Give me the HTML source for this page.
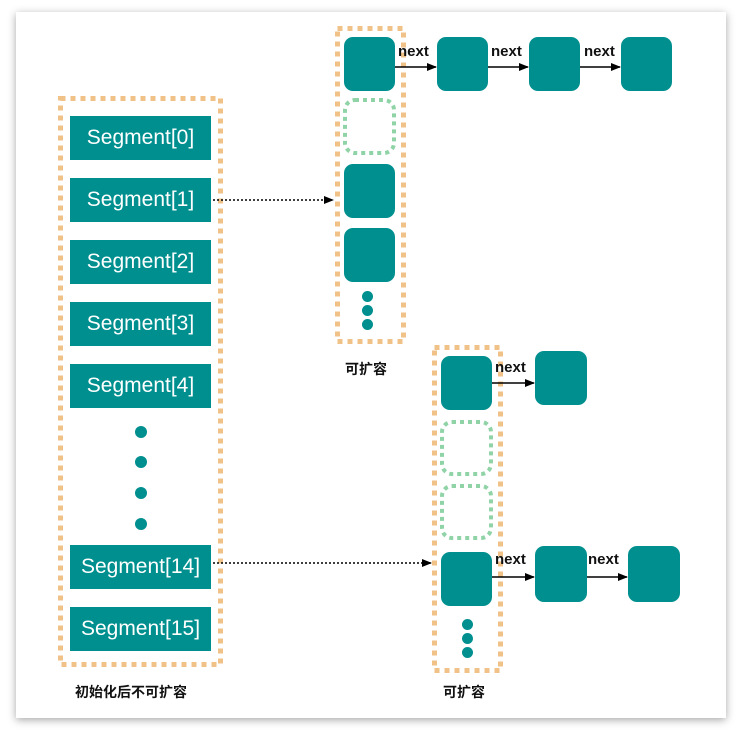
<!DOCTYPE html>
<html><head><meta charset="utf-8"><style>
body{margin:0;width:747px;height:738px;background:#fff;overflow:hidden;position:relative;font-family:"Liberation Sans","Noto Sans CJK SC",sans-serif}
.card{position:absolute;left:16px;top:12px;width:710px;height:706px;background:#fff;box-shadow:0 2px 8px rgba(0,0,0,.35)}
.seg{position:absolute;left:70px;width:141px;height:44px;background:#008f8f;color:#fff;font-size:21px;text-align:center;line-height:44px}
.n{position:absolute;width:51px;height:54px;background:#008f8f;border-radius:9px}
.d{position:absolute;width:11px;height:11px;border-radius:50%;background:#008f8f}
.t{position:absolute;font-size:15px;font-weight:bold;color:#111}
</style></head><body>
<div class="card"></div>
<svg width="747" height="738" style="position:absolute;left:0;top:0">
<g fill="none" stroke="#f0c288" stroke-width="5" stroke-dasharray="5,5">
<rect x="60.5" y="98.5" width="160" height="566"/>
<rect x="337.5" y="28.5" width="66" height="313"/>
<rect x="434.5" y="347.5" width="66" height="323"/>
</g>
<g fill="none" stroke="#8fd3a6" stroke-width="4" stroke-dasharray="4,4">
<rect x="345" y="100" width="49" height="53" rx="10"/>
<rect x="442" y="422" width="49" height="52" rx="10"/>
<rect x="442" y="486" width="49" height="52" rx="10"/>
</g>
</svg>
<div class="seg" style="top:116px">Segment[0]</div>
<div class="seg" style="top:178px">Segment[1]</div>
<div class="seg" style="top:240px">Segment[2]</div>
<div class="seg" style="top:302px">Segment[3]</div>
<div class="seg" style="top:364px">Segment[4]</div>
<div class="seg" style="top:545px">Segment[14]</div>
<div class="seg" style="top:607px">Segment[15]</div>
<div class="d" style="left:135px;top:426px;width:12px;height:12px"></div>
<div class="d" style="left:135px;top:456px;width:12px;height:12px"></div>
<div class="d" style="left:135px;top:487px;width:12px;height:12px"></div>
<div class="d" style="left:135px;top:518px;width:12px;height:12px"></div>

<div class="n" style="left:344px;top:37px"></div>
<div class="n" style="left:344px;top:164px"></div>
<div class="n" style="left:344px;top:228px"></div>
<div class="d" style="left:362px;top:291px"></div>
<div class="d" style="left:362px;top:305px"></div>
<div class="d" style="left:362px;top:319px"></div>
<div class="n" style="left:437px;top:37px"></div>
<div class="n" style="left:529px;top:37px"></div>
<div class="n" style="left:621px;top:37px"></div>

<div class="n" style="left:441px;top:356px"></div>
<div class="n" style="left:441px;top:552px"></div>
<div class="d" style="left:462px;top:619px"></div>
<div class="d" style="left:462px;top:633px"></div>
<div class="d" style="left:462px;top:647px"></div>
<div class="n" style="left:535px;top:351px;width:52px"></div>
<div class="n" style="left:535px;top:546px;width:52px;height:56px"></div>
<div class="n" style="left:628px;top:546px;width:52px;height:56px"></div>

<svg width="747" height="738" style="position:absolute;left:0;top:0">
<defs><marker id="a" markerWidth="10" markerHeight="8" refX="9" refY="4" orient="auto" markerUnits="userSpaceOnUse"><path d="M0,0L10,4L0,8z" fill="#000"/></marker></defs>
<g stroke="#000" stroke-width="1.6" fill="none" marker-end="url(#a)">
<line x1="213" y1="200" x2="333" y2="200" stroke-dasharray="2,2"/>
<line x1="213" y1="563" x2="431" y2="563" stroke-dasharray="2,2"/>
<line x1="395" y1="67" x2="436" y2="67"/>
<line x1="488" y1="67" x2="528" y2="67"/>
<line x1="580" y1="67" x2="620" y2="67"/>
<line x1="492" y1="383" x2="534" y2="383"/>
<line x1="492" y1="577" x2="534" y2="577"/>
<line x1="587" y1="577" x2="627" y2="577"/>
</g></svg>
<div class="t" style="left:398px;top:43px">next</div>
<div class="t" style="left:491px;top:43px">next</div>
<div class="t" style="left:584px;top:43px">next</div>
<div class="t" style="left:495px;top:359px">next</div>
<div class="t" style="left:495px;top:551px">next</div>
<div class="t" style="left:588px;top:551px">next</div>
<div class="t" style="left:345px;top:359px;font-size:14px">可扩容</div>
<div class="t" style="left:443px;top:682px;font-size:14px">可扩容</div>
<div class="t" style="left:75px;top:682px;font-size:14px">初始化后不可扩容</div>
</body></html>
